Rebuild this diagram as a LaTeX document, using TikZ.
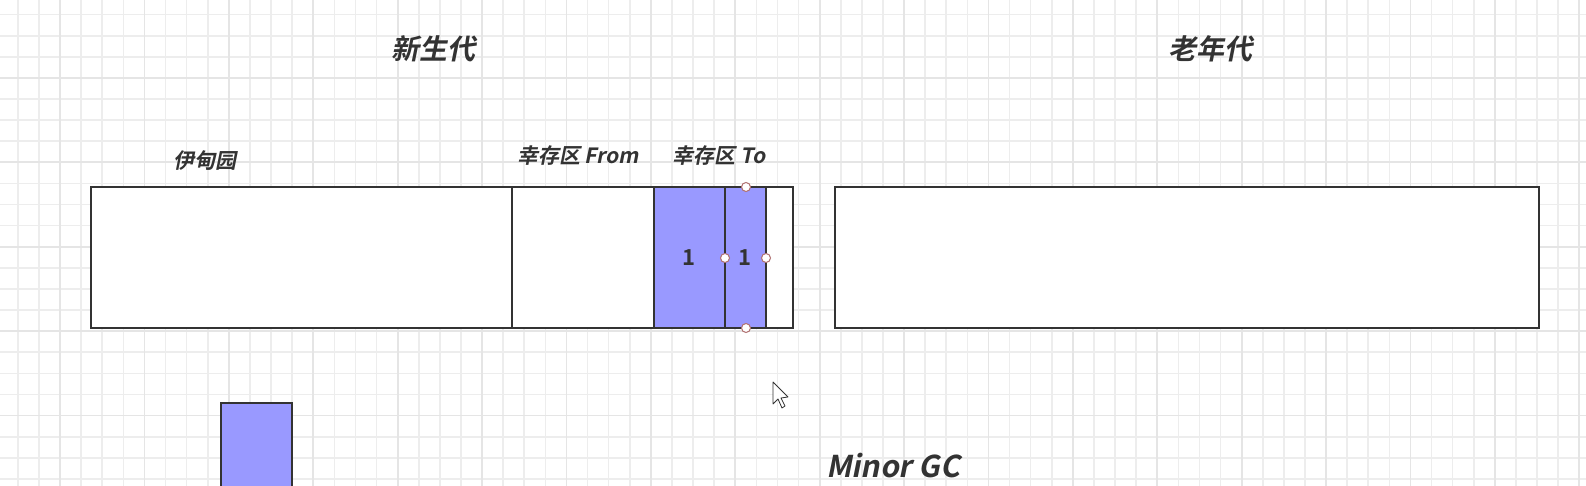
\documentclass[tikz,border=0pt]{standalone}
\usepackage{fontspec}
\newfontfamily\cjk[FakeSlant=0.2]{Noto Sans CJK SC Bold}
\newfontfamily\cjkup{Noto Sans CJK SC Bold}
\usepackage{tikz}
\usetikzlibrary{positioning}
\definecolor{survblue}{HTML}{9999FF}
\definecolor{ink}{HTML}{333333}
\definecolor{handle}{HTML}{B07070}
\tikzset{
  gridminor/.style={draw=black!7, line width=0.8pt},
  gridmajor/.style={draw=black!10, line width=0.9pt},
  region/.style={draw=ink, line width=1.3pt},
  title/.style={font=\cjk\fontsize{14}{14}\selectfont, text=ink, inner sep=0pt},
  area/.style={font=\cjk\fontsize{10.5}{10.5}\selectfont, text=ink, inner sep=0pt},
  count/.style={font=\cjkup\fontsize{11}{11}\selectfont, text=ink, inner sep=0pt},
  knob/.style={circle, draw=handle, fill=white, line width=0.5pt, inner sep=0pt, minimum size=4.5pt}
}
\begin{document}
\begin{tikzpicture}[x=0.5pt, y=-0.5pt]
\useasboundingbox (0,0) rectangle (1586,486);
\clip (0,0) rectangle (1586,486);
\fill[white] (0,0) rectangle (1586,486);
% grid
\foreach \i in {-3,...,72} \draw[gridminor] ({60+21.1*\i},0) -- ++(0,486);
\foreach \j in {-4,...,20} \draw[gridminor] (0,{78+21.1*\j}) -- ++(1586,0);
\foreach \i in {-1,...,18} \draw[gridmajor] ({60+84.4*\i},0) -- ++(0,486);
\foreach \j in {-1,...,5} \draw[gridmajor] (0,{78+84.4*\j}) -- ++(1586,0);

% young generation
\draw[region, fill=white] (91,187) rectangle (793,328);
\draw[region] (512,187) -- (512,328);
\draw[region, fill=survblue] (654,187) rectangle (725,328);
\draw[region, fill=survblue] (725,187) rectangle (766,328);
% old generation
\draw[region, fill=white] (835,187) rectangle (1539,328);
\draw[region, fill=survblue] (221,403) rectangle (292,500);

\node[title] (young) at (433,49) {新生代};
\node[title] (old) at (1210,49) {老年代};
\node[area] (eden) at (205,161) {伊甸园};
\node[area] (from) at (578,156) {幸存区 From};
\node[area] (to) at (719,156) {幸存区 To};
\node[count] (n1) at (689,258) {1};
\node[count] (n2) at (745,258) {1};
\node[title, font=\cjk\fontsize{15}{15}\selectfont] (gc) at (893,466) {Minor GC};

% selection handles
\foreach \p in {(746,187),(746,328),(725,258),(766,258)} \node[knob] at \p {};
% cursor
\draw[black!80, fill=white, line width=0.4pt, line join=round]
  (773,382) -- (773,404) -- (778,399) -- (782,408) -- (785,406) -- (781,398) -- (788,397) -- cycle;
\end{tikzpicture}
\end{document}
